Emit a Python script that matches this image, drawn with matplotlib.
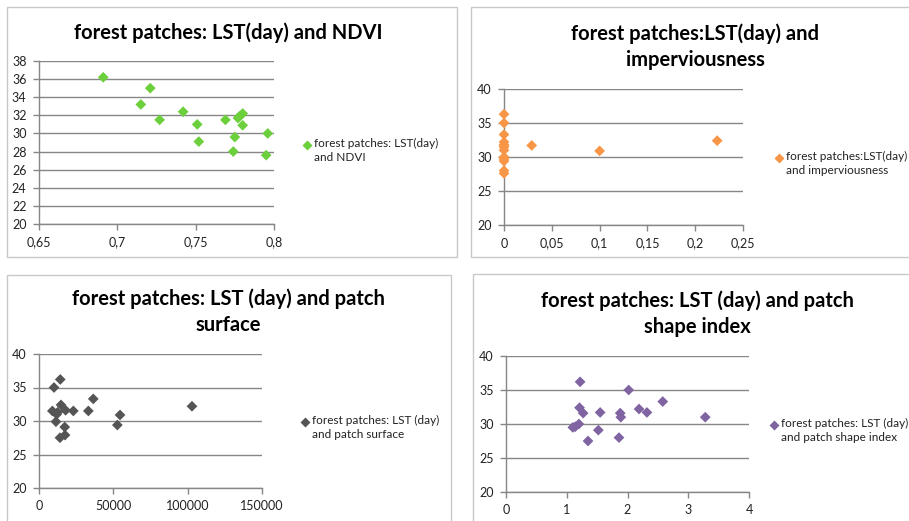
import matplotlib
matplotlib.use("Agg")
import matplotlib.pyplot as plt
from matplotlib.lines import Line2D
from matplotlib.patches import Rectangle
from matplotlib.ticker import FuncFormatter, MultipleLocator

plt.rcParams["font.family"] = ["Lato", "DejaVu Sans"]

W, H = 909, 521

# --- data ------------------------------------------------------------------
ndvi = [0.691, 0.721, 0.715, 0.727, 0.742, 0.751, 0.752, 0.769, 0.777, 0.778,
        0.780, 0.780, 0.775, 0.774, 0.796, 0.795]
lst_ndvi = [36.2, 35.0, 33.2, 31.5, 32.4, 31.0, 29.1, 31.5, 31.7, 31.9,
            32.2, 30.9, 29.6, 28.0, 30.0, 27.6]

imperv = [0, 0, 0, 0, 0, 0, 0, 0, 0, 0, 0, 0, 0, 0.029, 0.1, 0.223]
lst_imperv = [36.3, 35.0, 33.3, 32.2, 31.8, 31.5, 31.0, 30.0, 29.7, 29.4,
              28.0, 27.6, 31.6, 31.7, 30.9, 32.4]

surface = [10100, 14300, 9000, 11900, 11400, 14800, 17900, 23100, 33200, 36500,
           17300, 17500, 14100, 12500, 52700, 54500, 102900]
lst_surface = [35.0, 36.2, 31.5, 31.0, 29.9, 32.4, 31.6, 31.5, 31.5, 33.3,
               29.1, 27.9, 27.5, 31.3, 29.4, 30.9, 32.2]

shape = [1.22, 2.02, 2.58, 2.19, 2.32, 1.21, 1.27, 1.55, 1.88, 1.89,
         3.28, 1.20, 1.10, 1.14, 1.52, 1.35, 1.86]
lst_shape = [36.2, 35.0, 33.3, 32.2, 31.7, 32.4, 31.6, 31.7, 31.6, 31.0,
             31.0, 30.0, 29.5, 29.6, 29.1, 27.5, 28.0]

GRID = "#868686"


def fx(px):
    return px / W


def fy(py):
    return 1 - py / H


def comma(v, pos):
    return f"{v:g}".replace(".", ",")


fig = plt.figure(figsize=(W / 100, H / 100), dpi=100)

# chart frames
for (x0, y0, x1, y1) in [(7, 7, 457, 257), (471, 7, 912, 257),
                         (7, 275, 451, 524), (473, 274, 912, 524)]:
    fig.add_artist(Rectangle((fx(x0), fy(y1)), fx(x1 - x0), (y1 - y0) / H,
                             transform=fig.transFigure, fill=False,
                             edgecolor="#c8c8c8", linewidth=1.0))

panels = [
    dict(box=(39, 61, 274, 224), x=ndvi, y=lst_ndvi, color="#6ccf3c",
         xlim=(0.65, 0.8), xstep=0.05, ylim=(20, 38), ystep=2,
         title="forest patches: LST(day) and NDVI", tpos=(228, 33),
         label="forest patches: LST(day)\nand NDVI", lpos=(307, 145)),
    dict(box=(504, 89, 743, 225), x=imperv, y=lst_imperv, color="#f79646",
         xlim=(0, 0.25), xstep=0.05, ylim=(20, 40), ystep=5,
         title="forest patches:LST(day) and\nimperviousness", tpos=(695, 47),
         label="forest patches:LST(day)\nand imperviousness", lpos=(779, 158)),
    dict(box=(39, 354, 262, 488), x=surface, y=lst_surface, color="#555555",
         xlim=(0, 150000), xstep=50000, ylim=(20, 40), ystep=5,
         title="forest patches: LST (day) and patch\nsurface", tpos=(228, 312),
         label="forest patches: LST (day)\nand patch surface", lpos=(305, 422)),
    dict(box=(506, 356, 749, 492), x=shape, y=lst_shape, color="#8064a2",
         xlim=(0, 4), xstep=1, ylim=(20, 40), ystep=5,
         title="forest patches: LST (day) and patch\nshape index", tpos=(697, 314),
         label="forest patches: LST (day)\nand patch shape index", lpos=(774, 425)),
]

for p in panels:
    x0, y0, x1, y1 = p["box"]
    ax = fig.add_axes([fx(x0), fy(y1), fx(x1 - x0), (y1 - y0) / H])
    ax.scatter(p["x"], p["y"], marker="D", s=30, color=p["color"],
               edgecolor="none", zorder=3, clip_on=False)
    ax.set_xlim(*p["xlim"])
    ax.set_ylim(*p["ylim"])
    ax.xaxis.set_major_locator(MultipleLocator(p["xstep"]))
    ax.yaxis.set_major_locator(MultipleLocator(p["ystep"]))
    ax.xaxis.set_major_formatter(FuncFormatter(comma))
    ax.yaxis.set_major_formatter(FuncFormatter(comma))
    ax.grid(axis="y", color=GRID, linewidth=1.0)
    ax.set_axisbelow(True)
    for s in ("top", "right"):
        ax.spines[s].set_visible(False)
    for s in ("left", "bottom"):
        ax.spines[s].set_color(GRID)
        ax.spines[s].set_linewidth(1.0)
    ax.tick_params(direction="out", length=4, width=1.0, color=GRID,
                   labelsize=9, labelcolor="#222222", pad=5)
    fig.text(fx(p["tpos"][0]), fy(p["tpos"][1]), p["title"], ha="center",
             va="center", fontsize=14.5, fontweight="bold", linespacing=1.35)

    # legend: marker beside the first line of a two-line label
    lx, ly = p["lpos"]
    fig.add_artist(Line2D([fx(lx)], [fy(ly)], marker="D", markersize=5.2,
                          color=p["color"], markeredgecolor="none",
                          transform=fig.transFigure))
    fig.text(fx(lx + 7), fy(ly - 7), p["label"], ha="left", va="top",
             fontsize=8.5, color="#222222", linespacing=1.3)

fig.savefig("out.png", dpi=100)
